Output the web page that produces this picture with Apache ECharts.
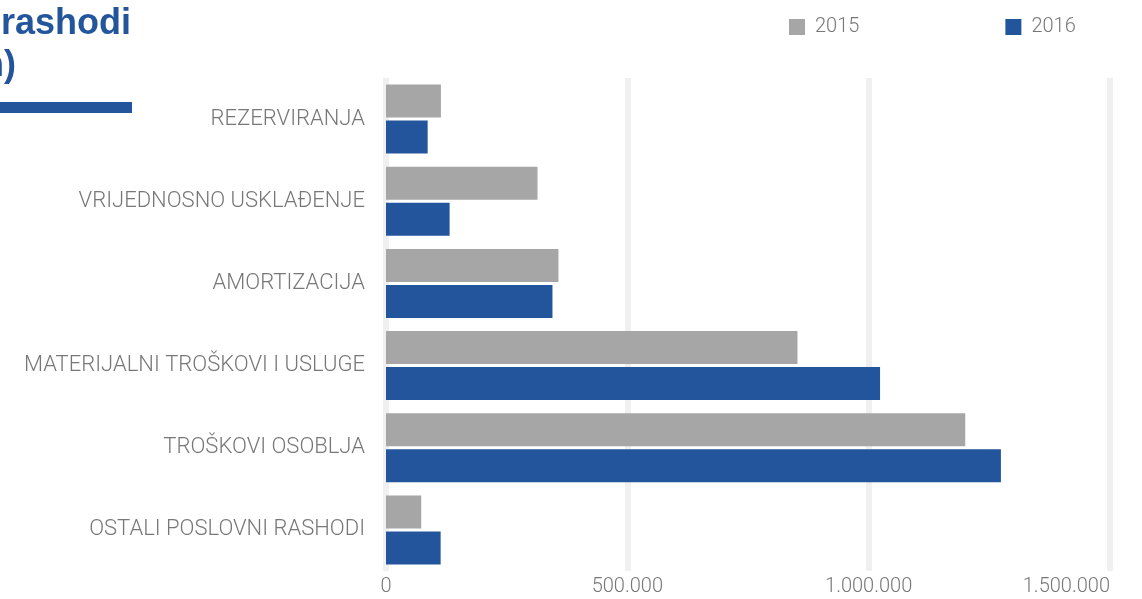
<!DOCTYPE html>
<html>
<head>
<meta charset="utf-8">
<script src="https://cdn.jsdelivr.net/npm/echarts@6/dist/echarts.min.js"></script>
<style>
	html, body { margin: 0; padding: 0; background: #fff; }
	#chart { width: 1142px; height: 599px; }
</style>
</head>
<body>
<div id="chart"></div>
<script>
	// kategorije (odozgo prema dolje)
	var categories = ['REZERVIRANJA', 'VRIJEDNOSNO USKLAĐENJE', 'AMORTIZACIJA', 'MATERIJALNI TROŠKOVI I USLUGE', 'TROŠKOVI OSOBLJA', 'OSTALI POSLOVNI RASHODI'];
	var years = ['2015', '2016'];
	var values2015 = [113800, 313900, 357300, 852500, 1200100, 73000];
	var values2016 = [86300, 131800, 344900, 1023600, 1274000, 113200];
	var xTicks = [0, 500000, 1000000, 1500000];

	var blue = '#23559c';
	var grey = '#a6a6a6';
	var labelFont = 'Roboto';

	function fmt(v) {
		return String(v).replace(/\B(?=(\d{3})+(?!\d))/g, '.');
	}

	var chart = echarts.init(document.getElementById('chart'));
	var option = {
		animation: false,
		color: [grey, blue],
		legend: {
			data: years,
			left: 789,
			top: 17,
			padding: 0,
			itemWidth: 16,
			itemHeight: 16,
			itemGap: 146,
			icon: 'rect',
			textStyle: { color: '#777', fontSize: 20, fontFamily: labelFont, fontWeight: 300, padding: [0, 0, 0, 5] }
		},
		grid: { left: 386, right: 32, top: 78, bottom: 28, outerBoundsMode: 'none', containLabel: false },
		xAxis: {
			type: 'value',
			min: xTicks[0],
			max: xTicks[xTicks.length - 1],
			interval: xTicks[1] - xTicks[0],
			axisLine: { show: false },
			axisTick: { show: false },
			splitLine: { lineStyle: { color: '#f0f0f0', width: 6 } },
			axisLabel: {
				margin: 6,
				color: '#777',
				fontSize: 20,
				fontFamily: labelFont,
				fontWeight: 300,
				alignMaxLabel: 'right',
				formatter: fmt
			}
		},
		yAxis: {
			type: 'category',
			inverse: true,
			data: categories,
			axisLine: { show: false },
			axisTick: { show: false },
			axisLabel: {
				margin: 21,
				color: '#777',
				fontSize: 22,
				fontFamily: labelFont,
				fontWeight: 300
			}
		},
		series: [
			{ name: years[0], type: 'bar', data: values2015, barCategoryGap: '16%', barGap: '9%', itemStyle: { color: grey } },
			{ name: years[1], type: 'bar', data: values2016, barCategoryGap: '16%', barGap: '9%', itemStyle: { color: blue } }
		],
		graphic: [
			{ type: 'text', x: 131, y: 24, style: { text: 'rashodi', align: 'right', verticalAlign: 'middle', fill: blue, font: 'bold 36px "Liberation Sans"' } },
			{ type: 'text', x: 16, y: 66, style: { text: '(u 000 kn)', align: 'right', verticalAlign: 'middle', fill: blue, font: 'bold 36px "Liberation Sans"' } },
			{ type: 'rect', shape: { x: 0, y: 102, width: 132, height: 11 }, style: { fill: blue } }
		]
	};
	chart.setOption(option);
</script>
</body>
</html>
